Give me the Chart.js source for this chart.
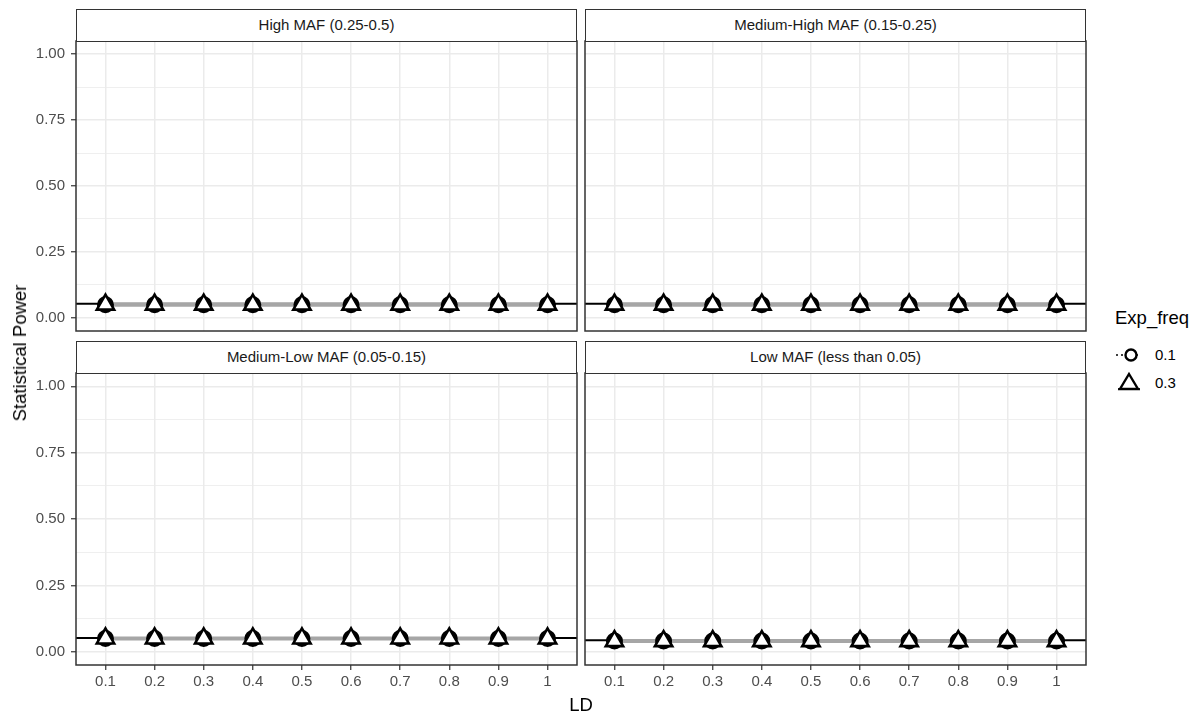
<!DOCTYPE html>
<html>
<head>
<meta charset="utf-8">
<script src="https://cdn.jsdelivr.net/npm/chart.js@4/dist/chart.umd.min.js"></script>
<style>
  html, body { margin: 0; padding: 0; background: #fff; }
  body { width: 1201px; height: 715px; overflow: hidden; position: relative;
         font-family: "Liberation Sans", Arial, sans-serif; }
  canvas.panel { position: absolute; }
  .strip { position: absolute; box-sizing: border-box; border: 1.5px solid #333;
           background: #fff; color: #1a1a1a; font-size: 15px; text-align: center; }
  .title { position: absolute; color: #000; font-size: 18.5px; white-space: nowrap; }
  .legend-label { position: absolute; color: #000; font-size: 15px; }
</style>
</head>
<body>
<script>
// LD levels on the x axis and their printed labels
const ldLevels = [0.1, 0.2, 0.3, 0.4, 0.5, 0.6, 0.7, 0.8, 0.9, 1.0];
const ldTickLabels = ['0.1', '0.2', '0.3', '0.4', '0.5', '0.6', '0.7', '0.8', '0.9', '1'];

// Power axis ticks (major) and the finer minor grid between them
const powerMajorTicks = [0, 0.25, 0.5, 0.75, 1];
const powerMinorTicks = [0.125, 0.375, 0.625, 0.875];

// Facet titles (MAF bins)
const mafBins = ['High MAF (0.25-0.5)', 'Medium-High MAF (0.15-0.25)',
                 'Medium-Low MAF (0.05-0.15)', 'Low MAF (less than 0.05)'];

// Exposure frequency groups shown in the legend
const expFreqLevels = ['0.1', '0.3'];

// Statistical power, Exp_freq = 0.1
const powerExp01High    = [0.050, 0.050, 0.050, 0.050, 0.050, 0.050, 0.050, 0.050, 0.050, 0.050];
const powerExp01MedHigh = [0.050, 0.050, 0.050, 0.050, 0.050, 0.050, 0.050, 0.050, 0.050, 0.050];
const powerExp01MedLow  = [0.050, 0.050, 0.050, 0.050, 0.050, 0.050, 0.050, 0.050, 0.050, 0.050];
const powerExp01Low     = [0.040, 0.040, 0.040, 0.040, 0.040, 0.040, 0.040, 0.040, 0.040, 0.040];

// Statistical power, Exp_freq = 0.3
const powerExp03High    = [0.050, 0.050, 0.050, 0.050, 0.050, 0.050, 0.050, 0.050, 0.050, 0.050];
const powerExp03MedHigh = [0.050, 0.050, 0.050, 0.050, 0.050, 0.050, 0.050, 0.050, 0.050, 0.050];
const powerExp03MedLow  = [0.050, 0.050, 0.050, 0.050, 0.050, 0.050, 0.050, 0.050, 0.050, 0.050];
const powerExp03Low     = [0.040, 0.040, 0.040, 0.040, 0.040, 0.040, 0.040, 0.040, 0.040, 0.040];

// Overall fitted power level per facet (black reference line across the panel)
const fittedPower = [0.053, 0.053, 0.052, 0.043];

// ---- layout -------------------------------------------------------------
const PAD = 24;              // spare canvas room round each plot area
const Y_AXIS_W = 76;         // width taken by the power axis on the left column
const X_AXIS_H = 44;         // height taken by the LD axis on the bottom row
const X_MIN = 0.04, X_MAX = 1.06;
const Y_MIN = -0.05, Y_MAX = 1.05;

const panels = [
  { title: mafBins[0], exp01: powerExp01High,    exp03: powerExp03High,    fit: fittedPower[0], left: 76,  top: 41,  w: 501, h: 290, yAxis: true,  xAxis: false },
  { title: mafBins[1], exp01: powerExp01MedHigh, exp03: powerExp03MedHigh, fit: fittedPower[1], left: 585, top: 41,  w: 501, h: 290, yAxis: false, xAxis: false },
  { title: mafBins[2], exp01: powerExp01MedLow,  exp03: powerExp03MedLow,  fit: fittedPower[2], left: 76,  top: 373, w: 501, h: 292, yAxis: true,  xAxis: true },
  { title: mafBins[3], exp01: powerExp01Low,     exp03: powerExp03Low,     fit: fittedPower[3], left: 585, top: 373, w: 501, h: 292, yAxis: false, xAxis: true }
];

const tickFont = { family: '"Liberation Sans", Arial, sans-serif', size: 15 };
const isMajor = v => powerMajorTicks.some(m => Math.abs(m - v) < 1e-9);

// panel frame drawn over the data, like a theme_bw border
const panelBorder = {
  id: 'panelBorder',
  afterDraw(chart) {
    const a = chart.chartArea, ctx = chart.ctx;
    ctx.save();
    ctx.strokeStyle = '#333';
    ctx.lineWidth = 1.5;
    ctx.strokeRect(a.left, a.top, a.right - a.left, a.bottom - a.top);
    ctx.restore();
  }
};

function addPanel(p) {
  const yw = p.yAxis ? Y_AXIS_W : 0;
  const xh = p.xAxis ? X_AXIS_H : 0;
  const cv = document.createElement('canvas');
  cv.className = 'panel';
  cv.width = yw + p.w + 2 * PAD;
  cv.height = p.h + xh + 2 * PAD;
  cv.style.left = (p.left - yw - PAD) + 'px';
  cv.style.top = (p.top - PAD) + 'px';
  document.body.appendChild(cv);

  // strip with the facet title
  const s = document.createElement('div');
  s.className = 'strip';
  s.style.left = p.left + 'px';
  s.style.width = p.w + 'px';
  s.style.top = (p.top - 32) + 'px';
  s.style.height = '33px';
  s.style.lineHeight = '30px';
  s.textContent = p.title;
  document.body.appendChild(s);

  const pts = arr => ldLevels.map((x, i) => ({ x: x, y: arr[i] }));

  // lower "order" is painted last (on top)
  new Chart(cv, {
    type: 'line',
    data: {
      datasets: [
        { label: expFreqLevels[1], data: pts(p.exp03), showLine: false,
          pointStyle: 'triangle', pointRadius: 10, pointBorderWidth: 2.6,
          pointBorderColor: '#000', pointBackgroundColor: '#fff', order: 0 },
        { label: expFreqLevels[0], data: pts(p.exp01), showLine: false,
          pointStyle: 'circle', pointRadius: 7, pointBorderWidth: 3,
          pointBorderColor: '#000', pointBackgroundColor: '#fff', order: 1 },
        { label: 'trend', data: pts(p.exp03), borderColor: '#a6a6a6', borderWidth: 4,
          pointRadius: 0, order: 2 },
        { label: 'fit', data: [{ x: X_MIN, y: p.fit }, { x: X_MAX, y: p.fit }],
          borderColor: '#000', borderWidth: 2, pointRadius: 0, order: 3 }
      ]
    },
    options: {
      responsive: false, animation: false, devicePixelRatio: 1, events: [],
      layout: { padding: PAD },
      plugins: { legend: { display: false }, tooltip: { enabled: false } },
      scales: {
        x: {
          type: 'linear', min: X_MIN, max: X_MAX,
          afterBuildTicks: sc => { sc.ticks = ldLevels.map(v => ({ value: v })); },
          afterFit: sc => { sc.height = xh; },
          border: { display: false },
          grid: { color: '#ebebeb', lineWidth: 1.5, drawTicks: p.xAxis,
                  tickLength: 5, tickColor: '#333', tickWidth: 1.2 },
          ticks: { display: p.xAxis, autoSkip: false, maxRotation: 0, padding: 3,
                   color: '#4d4d4d', font: tickFont,
                   callback: (v, i) => ldTickLabels[i] }
        },
        y: {
          type: 'linear', min: Y_MIN, max: Y_MAX,
          afterBuildTicks: sc => {
            sc.ticks = powerMajorTicks.concat(powerMinorTicks)
              .sort((a, b) => a - b).map(v => ({ value: v }));
          },
          afterFit: sc => { sc.width = yw; },
          border: { display: false },
          grid: {
            color: '#ebebeb',
            lineWidth: c => (c.tick && isMajor(c.tick.value)) ? 1.5 : 0.8,
            drawTicks: p.yAxis, tickLength: 5,
            tickColor: c => (c.tick && isMajor(c.tick.value)) ? '#333' : 'rgba(0,0,0,0)',
            tickWidth: 1.2
          },
          ticks: { display: p.yAxis, autoSkip: false, padding: 6,
                   color: '#4d4d4d', font: tickFont,
                   callback: v => isMajor(v) ? v.toFixed(2) : '' }
        }
      }
    },
    plugins: [panelBorder]
  });
}

panels.forEach(addPanel);

// axis titles
function addText(cls, text, css) {
  const d = document.createElement('div');
  d.className = cls;
  d.textContent = text;
  Object.assign(d.style, css);
  document.body.appendChild(d);
  return d;
}
addText('title', 'LD', { left: '581px', top: '694px', transform: 'translateX(-50%)' });
addText('title', 'Statistical Power', { left: '20px', top: '353px',
  transform: 'translate(-50%, -50%) rotate(-90deg)' });

// legend
addText('title', 'Exp_freq', { left: '1115px', top: '307px' });
addText('legend-label', expFreqLevels[0], { left: '1155px', top: '346px' });
addText('legend-label', expFreqLevels[1], { left: '1155px', top: '374px' });

const svgNS = 'http://www.w3.org/2000/svg';
const key = document.createElementNS(svgNS, 'svg');
key.setAttribute('width', '40');
key.setAttribute('height', '60');
key.style.position = 'absolute';
key.style.left = '1110px';
key.style.top = '338px';
key.innerHTML =
  '<line x1="6" y1="17" x2="28" y2="17" stroke="#000" stroke-width="1.6" stroke-dasharray="2,3"/>' +
  '<circle cx="21" cy="17" r="5.5" fill="#fff" stroke="#000" stroke-width="2.4"/>' +
  '<line x1="8" y1="51" x2="30" y2="51" stroke="#000" stroke-width="1.8"/>' +
  '<polygon points="19,36 28,51 10,51" fill="#fff" stroke="#000" stroke-width="2.4" stroke-linejoin="miter"/>';
document.body.appendChild(key);
</script>
</body>
</html>
